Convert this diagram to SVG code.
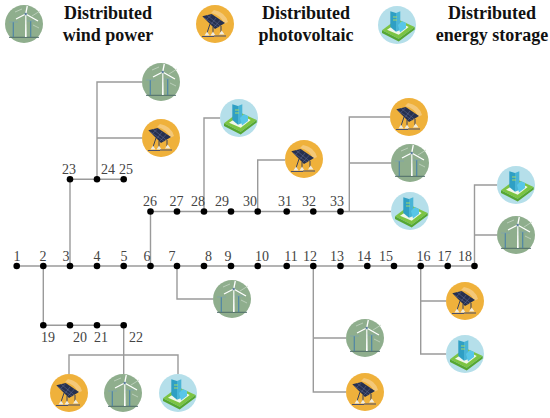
<svg xmlns="http://www.w3.org/2000/svg" width="550" height="418" viewBox="0 0 550 418">
<style>
.w{fill:none;stroke:#9a9a9a;stroke-width:1.4}
.b{fill:#000}
.n{font-family:"Liberation Serif",serif;font-size:14px;fill:#444;text-anchor:middle}
.t{font-family:"Liberation Serif",serif;font-size:18px;font-weight:bold;fill:#111;text-anchor:middle}
</style>
<defs>
<g id="wind">
<circle r="19" fill="#8fae8d"/>
<path d="M-15 13.300H15" stroke="#4d6b68" stroke-width="1"/>
<path d="M-10.700 13V-2M6.700 13V-3" stroke="#4f86a6" stroke-width="1.2"/>
<path d="M-15-2H-6M3-3H11" stroke="#7ba3b5" stroke-width=".6"/>
<path d="M1 13L1.300-10H2.300L2.700 13Z" fill="#fff"/>
<path d="M1.700-10L3.300-18M1.700-10L-8-5M1.700-10L14-3" stroke="#fff" stroke-width="1.300"/>
<path d="M-9-12L-2-15M8-8L16-13M9 1L15 4" stroke="#c5d6c4" stroke-width=".8"/>
<circle cx="1.700" cy="-10" r="1.200" fill="#5e7fa0"/>
</g>
<g id="pv">
<circle r="19" fill="#efb13b"/>
<path d="M-1-14Q10-12 13-2L9 0Q6-9-4-11Z" fill="#f4c878"/>
<path d="M-12.700-7.700L-3.300-10L10-1L0 5Z" fill="#26304f"/>
<path d="M-8-8.800L5.200 2M-3.500-9L-8.500-4.500M1-6L-4 .500M5.500-4L-1 3M-10.500-6L3.500 3.500" stroke="#66719a" stroke-width=".5"/>
<path d="M-8 9L-5 0M-2 9V3M6 8V2" stroke="#3b4159" stroke-width="1"/>
<path d="M-8 7.500L-10.500 11.500H-5.500ZM-2 7.500L-4.500 11.500H.5ZM6.700 6.500L4 10.500H9.500Z" fill="#f0ece0"/>
<path d="M-13 12.500H-1" stroke="#4a4f6a" stroke-width="1"/><path d="M-1 12H11" stroke="#4a4f6a" stroke-width="1"/>
</g>
<g id="storage">
<circle r="19" fill="#b5dfea"/>
<path d="M-15 5.300L0-6L17.700 2L1.700 13.700Z" fill="#7cc443"/>
<path d="M-15 5.300L1.700 13.700L17.700 2V4.500L1.700 16.500L-15 8Z" fill="#55a632"/>
<path d="M-10 4.700L2-3L11.700 2L1.700 9.700Z" fill="#f1f7ea"/>
<path d="M-6.700-13.700L-1-12V6.700L-6.700 2Z" fill="#2f9fc4"/>
<path d="M-1-12L3.300-13.700V5L-1 6.700Z" fill="#49b4d6"/>
<path d="M1 0L5-4L9-2V3L3 7.500Z" fill="#58c6e8"/>
<path d="M-4-8H0M-4-5H0" stroke="#a8d86a" stroke-width="1"/>
</g>
</defs>
<g id="connectors" class="w">
<path d="M16.700 266H474.500"/>
<path d="M70 266V179.300H123.700"/>
<path d="M97 179.300V82H142M97 138H142"/>
<path d="M150.500 266V211.500H391"/>
<path d="M204 211.500V118H220"/>
<path d="M257.700 211.500V160H285"/>
<path d="M349.300 211.500V117H390M349.300 163H391"/>
<path d="M474.500 266V185H497M474.500 235H497"/>
<path d="M177 266V299H213"/>
<path d="M313.300 266V392H346M313.300 338H346"/>
<path d="M420.700 266V354H446M420.700 301H446"/>
<path d="M43.300 266V325.300H123.700"/>
<path d="M123.700 325.300V374M69 374V355H178V374"/>
</g>
<g id="buses" class="b">
<circle cx="16.700" cy="266" r="3.300"/><circle cx="43.300" cy="266" r="3.300"/><circle cx="70" cy="266" r="3.300"/><circle cx="97" cy="266" r="3.300"/><circle cx="123.700" cy="266" r="3.300"/><circle cx="150.500" cy="266" r="3.300"/><circle cx="177" cy="266" r="3.300"/><circle cx="204" cy="266" r="3.300"/><circle cx="231" cy="266" r="3.300"/><circle cx="257.700" cy="266" r="3.300"/><circle cx="286.700" cy="266" r="3.300"/><circle cx="313.300" cy="266" r="3.300"/><circle cx="340.500" cy="266" r="3.300"/><circle cx="367.300" cy="266" r="3.300"/><circle cx="394" cy="266" r="3.300"/><circle cx="420.700" cy="266" r="3.300"/><circle cx="447.700" cy="266" r="3.300"/><circle cx="474.500" cy="266" r="3.300"/>
<circle cx="43.300" cy="325.300" r="3.300"/><circle cx="70" cy="325.300" r="3.300"/><circle cx="97" cy="325.300" r="3.300"/><circle cx="123.700" cy="325.300" r="3.300"/>
<circle cx="70" cy="179.300" r="3.300"/><circle cx="97" cy="179.300" r="3.300"/><circle cx="123.700" cy="179.300" r="3.300"/>
<circle cx="150.500" cy="211.500" r="3.300"/><circle cx="177" cy="211.500" r="3.300"/><circle cx="204" cy="211.500" r="3.300"/><circle cx="231" cy="211.500" r="3.300"/><circle cx="257.700" cy="211.500" r="3.300"/><circle cx="286.700" cy="211.500" r="3.300"/><circle cx="313.300" cy="211.500" r="3.300"/><circle cx="340.500" cy="211.500" r="3.300"/>
</g>
<g id="bus-labels" class="n">
<text x="17" y="261">1</text><text x="43" y="261">2</text><text x="66" y="261">3</text><text x="97" y="261">4</text><text x="124" y="261">5</text><text x="147" y="261">6</text><text x="172" y="261">7</text><text x="208.500" y="261">8</text><text x="228" y="261">9</text><text x="262" y="261">10</text><text x="291" y="261">11</text><text x="310" y="261">12</text><text x="337" y="261">13</text><text x="364" y="261">14</text><text x="386" y="261">15</text><text x="423.600" y="261">16</text><text x="444.500" y="261">17</text><text x="465" y="261">18</text>
<text x="150" y="206">26</text><text x="176.500" y="206">27</text><text x="198" y="206">28</text><text x="222" y="206">29</text><text x="250" y="206">30</text><text x="285" y="206">31</text><text x="309" y="206">32</text><text x="337" y="206">33</text>
<text x="69" y="174">23</text><text x="108" y="174">24</text><text x="126" y="174">25</text>
<text x="48" y="342">19</text><text x="80" y="342">20</text><text x="101" y="342">21</text><text x="136" y="342">22</text>
</g>
<g id="legend-wind"><use href="#wind" x="24" y="24"/><text class="t" x="108" y="19">Distributed</text><text class="t" x="108" y="41">wind power</text></g>
<g id="legend-pv"><use href="#pv" x="215" y="24"/><text class="t" x="306" y="19">Distributed</text><text class="t" x="306" y="41">photovoltaic</text></g>
<g id="legend-storage"><use href="#storage" x="397" y="25"/><text class="t" x="492" y="19">Distributed</text><text class="t" x="492" y="41">energy storage</text></g>
<g id="n24-wind"><use href="#wind" x="161" y="82"/></g>
<g id="n24-pv"><use href="#pv" x="161" y="138"/></g>
<g id="n28-storage"><use href="#storage" x="239" y="118"/></g>
<g id="n30-pv"><use href="#pv" x="304" y="159"/></g>
<g id="n33-pv"><use href="#pv" x="409" y="117"/></g>
<g id="n33-wind"><use href="#wind" x="410" y="163"/></g>
<g id="n33-storage"><use href="#storage" x="410" y="211"/></g>
<g id="n18-storage"><use href="#storage" x="516" y="185"/></g>
<g id="n18-wind"><use href="#wind" x="516" y="235"/></g>
<g id="n7-wind"><use href="#wind" x="232" y="299"/></g>
<g id="n12-wind"><use href="#wind" x="365" y="338"/></g>
<g id="n12-pv"><use href="#pv" x="365" y="392"/></g>
<g id="n16-pv"><use href="#pv" x="465" y="301"/></g>
<g id="n16-storage"><use href="#storage" x="465" y="354"/></g>
<g id="n22-pv"><use href="#pv" x="69" y="393"/></g>
<g id="n22-wind"><use href="#wind" x="123" y="393"/></g>
<g id="n22-storage"><use href="#storage" x="178" y="393"/></g>
</svg>
